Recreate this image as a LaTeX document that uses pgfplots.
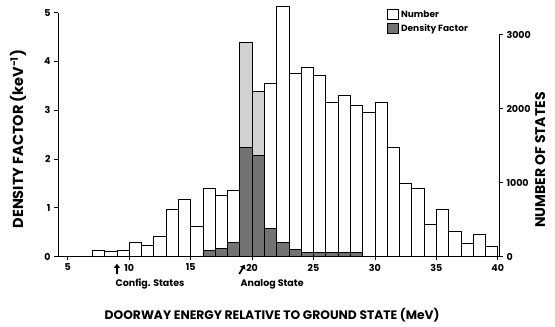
\documentclass[border=0pt]{standalone}
\usepackage{pgfplots}
\pgfplotsset{compat=1.18}
\usepackage{fontspec}
\setmainfont{Poppins}
\usetikzlibrary{arrows.meta}

\begin{document}
\begin{tikzpicture}
\path[use as bounding box] (0,0) rectangle (555pt,327pt);
\pgfplotsset{
  base/.style={
    at={(58pt,70.5pt)}, anchor=south west,
    scale only axis, width=441pt, height=251.5pt,
    xmin=4.2, xmax=40.1, ymin=0,
    axis line style={draw=none},
    tick style={black, thick},
    major tick length=4pt,
    tick align=outside,
    clip=false,
    ticklabel style={font=\bfseries\fontsize{9.5}{11}\selectfont},
    /pgf/number format/assume math mode=true,
    /pgf/number format/set thousands separator={},
    ybar, bar width=1, bar shift=0,
  }
}
% Number of states (right axis)
\begin{axis}[base,
  ymax=3400,
  axis x line=none,
  axis y line*=right,
  ytick={0,1000,2000,3000},
]
\addplot[draw=black, thick, fill=white] coordinates {
(7.5,84) (8.5,70) (9.5,84) (10.5,186) (11.5,146) (12.5,273) (13.5,632) (14.5,772)
(15.5,412) (16.5,921) (17.5,821) (18.5,889) (19.5,2893) (20.5,2226) (21.5,2334)
(22.5,3383) (23.5,2482) (24.5,2552) (25.5,2455) (26.5,2082) (27.5,2174) (28.5,2042)
(29.5,1954) (30.5,2089) (31.5,1479) (32.5,989) (33.5,921) (34.5,439) (35.5,637)
(36.5,340) (37.5,178) (38.5,300) (39.5,132)
};
\addplot[draw=black, thick, fill=black!18] coordinates {(19.5,2893) (20.5,2226)};
\draw[thick] (axis cs:40.1,0) -- (axis cs:40.1,3000);
\end{axis}
% Density factor (left axis)
\begin{axis}[base,
  ymax=5.16,
  axis x line*=bottom, axis y line*=left,
  xtick={5,10,...,40}, ytick={0,1,...,5},
  legend style={at={(0.744,0.99)}, anchor=north west, draw=none, fill=none,
    font=\bfseries\fontsize{9}{11}\selectfont, row sep=1pt, inner sep=1pt},
  legend cell align=left,
  legend image code/.code={\draw[#1, thick] (0pt,-5pt) rectangle (11pt,5pt);},
]
\addlegendimage{draw=black, fill=white}
\addlegendentry{Number}
\addplot[draw=black, thick, fill=black!55] coordinates {
(16.5,0.12) (17.5,0.16) (18.5,0.28) (19.5,2.24) (20.5,2.07) (21.5,0.57) (22.5,0.29)
(23.5,0.15) (24.5,0.09) (25.5,0.09) (26.5,0.09) (27.5,0.09) (28.5,0.09)
};
\addlegendentry{Density Factor}
\draw[thick] (axis cs:4.2,5) -- (axis cs:4.2,0) -- (axis cs:40.1,0);
\draw[-{Triangle[width=6pt,length=4pt]}, line width=1.8pt] (axis cs:9.0,-0.36) -- (axis cs:9.0,-0.15);
\draw[-{Triangle[width=6pt,length=4pt]}, line width=1.8pt] (axis cs:18.95,-0.36) -- (axis cs:19.4,-0.17);
\node[font=\bfseries\fontsize{9.5}{11}\selectfont] at (axis cs:11.69,-0.56) {Config. States};
\node[font=\bfseries\fontsize{9.5}{11}\selectfont] at (axis cs:21.63,-0.56) {Analog State};
\node[font=\bfseries\fontsize{12.3}{14}\selectfont] at (axis cs:21.63,-1.2) {DOORWAY ENERGY RELATIVE TO GROUND STATE (MeV)};
\node[rotate=90, font=\bfseries\fontsize{14.5}{16}\selectfont] at (axis cs:0.94,2.41) {DENSITY FACTOR (keV\textsuperscript{-1})};
\node[rotate=90, font=\bfseries\fontsize{14}{16}\selectfont] at (axis cs:43.45,1.98) {NUMBER OF STATES};
\end{axis}
\end{tikzpicture}
\end{document}
